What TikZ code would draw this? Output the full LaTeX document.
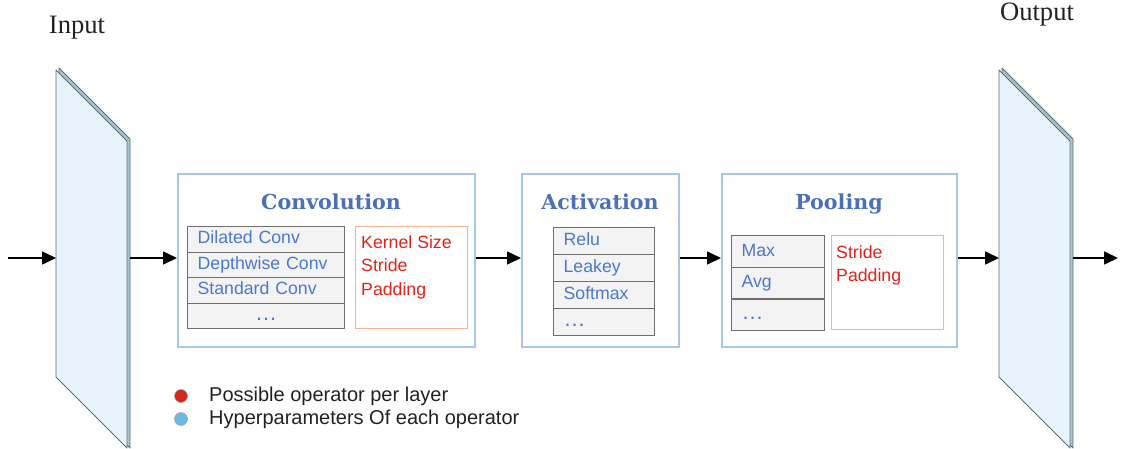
\documentclass[tikz,border=0pt]{standalone}
\usepackage{fontspec}
\setmainfont{Liberation Serif}
\setsansfont{Liberation Sans}
\newfontfamily\headfont{DejaVu Serif}
\usetikzlibrary{arrows.meta}

\definecolor{stageblue}{HTML}{A9C5EA}
\definecolor{headblue}{HTML}{4A6FBB}
\definecolor{opblue}{HTML}{4C78CC}
\definecolor{rowgray}{HTML}{6E6E6E}
\definecolor{rowfill}{HTML}{F3F3F3}
\definecolor{hpline}{HTML}{F4B393}
\definecolor{hpred}{HTML}{E0241B}
\definecolor{panelfront}{HTML}{E8F4FB}
\definecolor{paneledge}{HTML}{5F6E74}
\definecolor{panelside}{HTML}{A8C6CF}
\definecolor{dotred}{HTML}{D9261C}
\definecolor{dotblue}{HTML}{6FB8E3}
\definecolor{inktext}{HTML}{222222}

\newcommand{\moreops}{{\fontsize{22}{22}\selectfont …}}

\begin{document}
\begin{tikzpicture}[x=1pt,y=-1pt,
  stage/.style={draw=stageblue, line width=1.5pt, fill=white, rectangle,
    inner sep=0pt, anchor=north west},
  head/.style={font=\headfont\bfseries\fontsize{20.6}{24}\selectfont, text=headblue,
    anchor=base, inner sep=0pt},
  oprow/.style={draw=rowgray, fill=rowfill, line width=1.3pt, rectangle,
    anchor=north west, inner ysep=0pt, inner xsep=10pt, align=left,
    text height=13pt, text depth=4pt,
    font=\sffamily\fontsize{17.7}{21}\selectfont, text=opblue},
  hpbox/.style={draw=hpline, line width=1.3pt, rectangle, anchor=north west,
    inner sep=0pt},
  hptext/.style={anchor=north west, align=left, inner sep=0pt,
    font=\sffamily\fontsize{17.7}{23.5}\selectfont, text=hpred},
  flow/.style={-{Triangle[length=14pt,width=13pt]}, line width=1.6pt, black},
  front/.style={fill=panelfront, draw=paneledge, line width=0.9pt, line join=round},
  side/.style={fill=panelside, draw=paneledge, line width=0.9pt, line join=round},
  label/.style={font=\fontsize{26.6}{30}\selectfont, text=inktext},
  legend/.style={anchor=west, inner sep=0pt, text=inktext,
    font=\sffamily\fontsize{20}{24}\selectfont},
  legdot/.style={circle, minimum size=13pt, inner sep=0pt, draw=gray!70, line width=0.6pt}
]
\useasboundingbox (0,0) rectangle (1127,448);

% input and output feature maps as thin slabs (back face, then front face)
\draw[side]  (59,68) -- (130,139) -- (130,448) -- (59,377) -- cycle;
\draw[front] (56,70) -- (127,141) -- (127,448) -- (56,377) -- cycle;
\draw[side]  (1002,68) -- (1073,139) -- (1073,448) -- (1002,377) -- cycle;
\draw[front] (999,70) -- (1070,141) -- (1070,448) -- (999,377) -- cycle;
\coordinate (in-w)  at (56,258);
\coordinate (in-e)  at (130,258);
\coordinate (out-w) at (999,258);
\coordinate (out-e) at (1073,258);
\coordinate (src)   at (8,258);
\coordinate (dst)   at (1118,258);

\node[label] (inlabel)  at (77,28)  {Input};
\node[label] (outlabel) at (1037,15) {Output};

% the three stages of a layer
\node[stage, minimum width=297pt, minimum height=173pt] (conv) at (177,173) {};
\node[stage, minimum width=157pt, minimum height=173pt] (act)  at (521,173) {};
\node[stage, minimum width=235pt, minimum height=173pt] (pool) at (721,173) {};

\node[head] (convhead) at (331,209) {Convolution};
\node[head] (acthead)  at (600,209) {Activation};
\node[head] (poolhead) at (839,209) {Pooling};

% convolution operators and hyperparameters
\node[oprow, minimum width=157pt, minimum height=25.5pt, text width=137pt] (c1) at (187,226)   {Dilated Conv};
\node[oprow, minimum width=157pt, minimum height=25.5pt, text width=137pt] (c2) at (187,251.5) {Depthwise Conv};
\node[oprow, minimum width=157pt, minimum height=25.5pt, text width=137pt] (c3) at (187,277)   {Standard Conv};
\node[oprow, minimum width=157pt, minimum height=25.5pt, text width=137pt, align=center] (c4) at (187,302.5) {\moreops};
\node[hpbox, minimum width=112pt, minimum height=102pt] (convhp) at (355,226) {};
\node[hptext] (convhptext) at (361,235) {Kernel Size\\Stride\\Padding};

% activation operators
\node[oprow, minimum width=101pt, minimum height=27pt, text width=81pt] (a1) at (553,227) {Relu};
\node[oprow, minimum width=101pt, minimum height=27pt, text width=81pt] (a2) at (553,254) {Leakey};
\node[oprow, minimum width=101pt, minimum height=27pt, text width=81pt] (a3) at (553,281) {Softmax};
\node[oprow, minimum width=101pt, minimum height=27pt, text width=81pt] (a4) at (553,308) {\moreops};

% pooling operators and hyperparameters
\node[oprow, minimum width=93pt, minimum height=31.7pt, text width=73pt] (p1) at (731,235)   {Max};
\node[oprow, minimum width=93pt, minimum height=31.7pt, text width=73pt] (p2) at (731,266.7) {Avg};
\node[oprow, minimum width=93pt, minimum height=31.7pt, text width=73pt] (p3) at (731,298.4) {\moreops};
\node[hpbox, minimum width=112pt, minimum height=94pt] (poolhp) at (831,235) {};
\node[hptext] (poolhptext) at (836,245) {Stride\\Padding};

% data flow
\draw[flow] (src) -- (in-w);
\draw[flow] (in-e) -- (in-e -| conv.west);
\draw[flow] (in-e -| conv.east) -- (in-e -| act.west);
\draw[flow] (in-e -| act.east) -- (in-e -| pool.west);
\draw[flow] (in-e -| pool.east) -- (out-w);
\draw[flow] (out-e) -- (dst);

% legend
\node[legdot, fill=dotred]  (legred)  at (181,396) {};
\node[legdot, fill=dotblue] (legblue) at (181,419) {};
\node[legend] (legredtext)  at (209,396) {Possible operator per layer};
\node[legend] (legbluetext) at (209,419) {Hyperparameters Of each operator};
\end{tikzpicture}
\end{document}
